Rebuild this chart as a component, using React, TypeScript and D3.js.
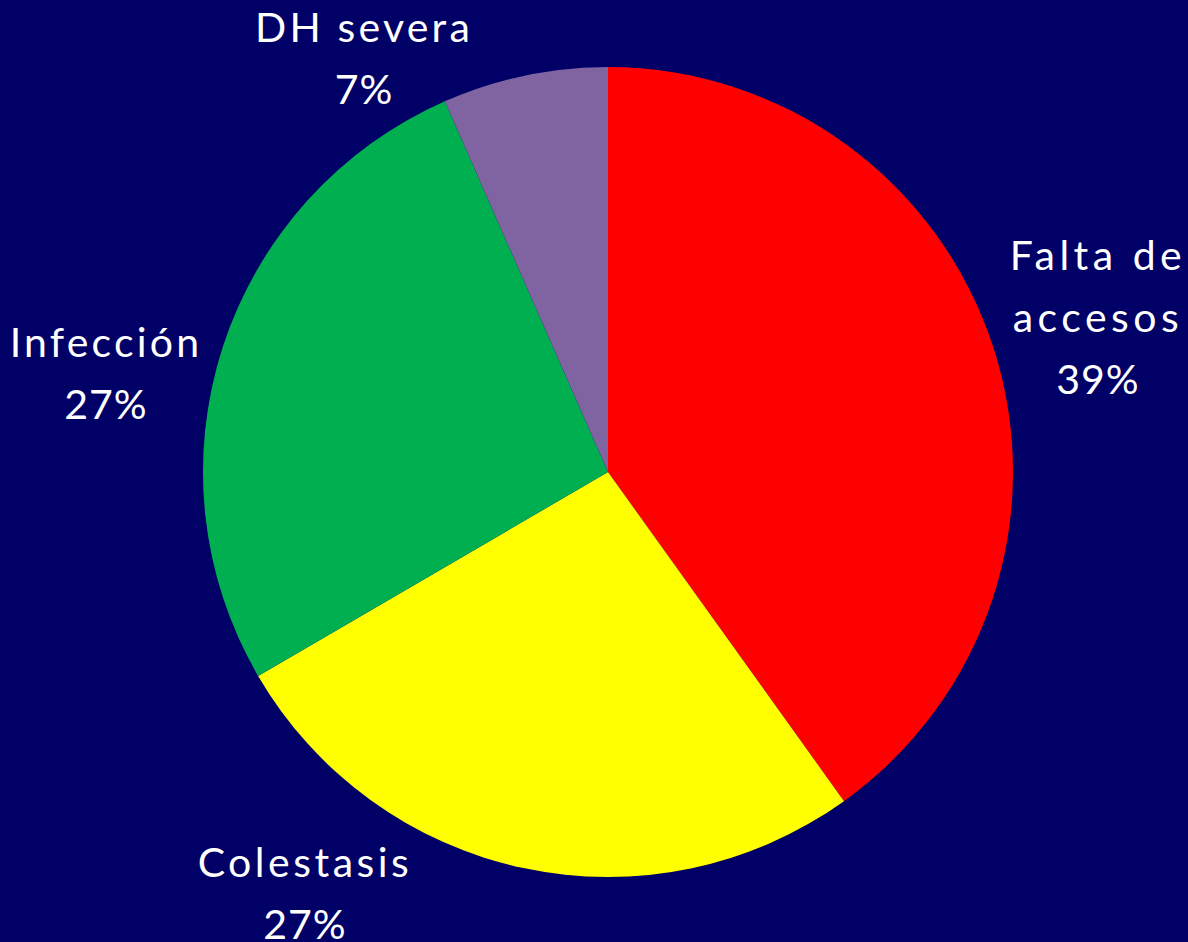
import React, { useEffect, useRef } from 'react';
import * as d3 from 'd3';

// causes, clockwise from 12 o'clock
const categories = ['Falta de accesos', 'Colestasis', 'Infección', 'DH severa'];
const values = [40.1, 26.5, 26.8, 6.6];
const percentLabels = ['39%', '27%', '27%', '7%'];
const labelLines = [['Falta de', 'accesos'], ['Colestasis'], ['Infección'], ['DH severa']];
const colors = ['#ff0000', '#ffff00', '#00b050', '#8064a2'];

// label anchor (center x, first baseline y) and letter spacing of name lines
const labelPos: [number, number][] = [
  [1098, 270],
  [305, 877],
  [106, 357],
  [364, 42],
];
const labelSpacing = [4.5, 3.5, 3.2, 3.2];

export default function App() {
  const ref = useRef<SVGSVGElement>(null);

  useEffect(() => {
    const width = 1188;
    const height = 942;
    const cx = 608;
    const cy = 472;
    const radius = 405;

    const svg = d3.select(ref.current);
    svg.selectAll('*').remove();

    svg.append('rect').attr('width', width).attr('height', height).attr('fill', '#000066');

    const pie = d3
      .pie<number>()
      .value((d) => d)
      .sort(null);
    const arc = d3.arc<d3.PieArcDatum<number>>().innerRadius(0).outerRadius(radius);

    const g = svg.append('g').attr('transform', `translate(${cx},${cy})`);
    g.selectAll('path')
      .data(pie(values))
      .enter()
      .append('path')
      .attr('d', arc)
      .attr('fill', (d, i) => colors[i]);

    const lineH = 62;
    const labels = svg
      .selectAll('.label')
      .data(categories)
      .enter()
      .append('text')
      .attr('class', 'label')
      .attr('text-anchor', 'middle')
      .style('font-family', 'Lato, "Open Sans", sans-serif')
      .style('font-size', '41px')
      .style('fill', '#fff');

    labels.each(function (d, i) {
      const t = d3.select(this);
      const [x, y] = labelPos[i];
      const lines = [...labelLines[i], percentLabels[i]];
      lines.forEach((s, j) => {
        t.append('tspan')
          .attr('x', x)
          .attr('y', y + j * lineH)
          .style('letter-spacing', j < lines.length - 1 ? `${labelSpacing[i]}px` : '1px')
          .text(s);
      });
    });
  }, []);

  return (
    <div style={{ position: 'absolute', left: 0, top: 0 }}>
      <svg ref={ref} width={1188} height={942} style={{ display: 'block' }} />
    </div>
  );
}
